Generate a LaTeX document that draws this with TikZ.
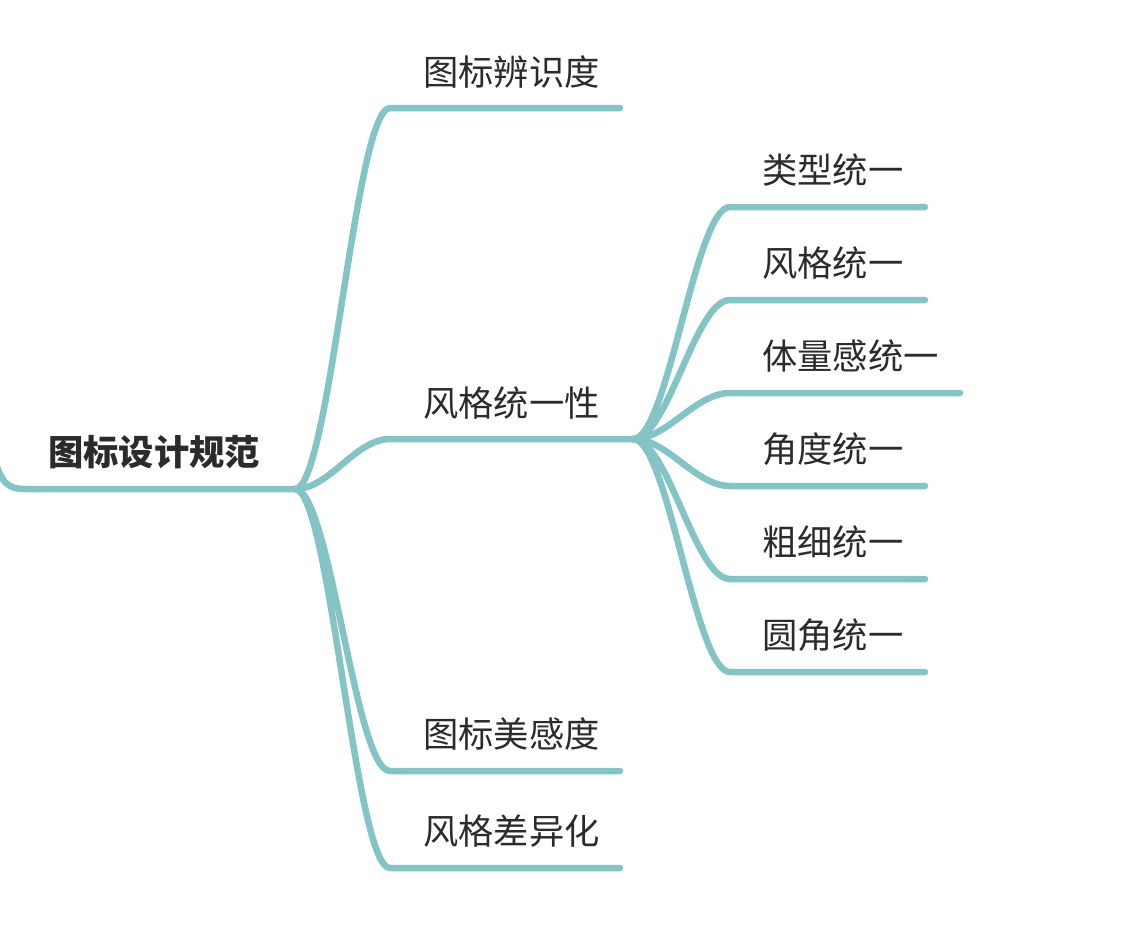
\documentclass[tikz,border=0pt]{standalone}
\usepackage{fontspec}
\newfontfamily\cjk{Noto Sans CJK SC}
\definecolor{branch}{HTML}{85C4C4}
\definecolor{txt}{HTML}{2B2B2B}
\begin{document}
\begin{tikzpicture}[x=1pt,y=-1pt,
  link/.style={draw=branch,line width=6.5pt,line cap=round,line join=round},
  lbl/.style={anchor=west,inner sep=0pt,text=txt,font=\cjk\fontsize{35.3}{40}\selectfont},
  rootlbl/.style={lbl,font=\cjk\bfseries\fontsize{35.3}{40}\selectfont}]
\useasboundingbox (0,0) rectangle (1130,946);
\clip (0,0) rectangle (1130,946);
% root
\node[rootlbl] (root) at (48,452) {图标设计规范};
\coordinate (rs) at (-6,458);
\coordinate (j0) at (295,489);
\draw[link] (rs) .. controls (2,484) and (8,489) .. (26,489) -- (j0);
% level 1
\node[lbl] (a) at (423,72) {图标辨识度};
\node[lbl] (b) at (423,403) {风格统一性};
\node[lbl] (c) at (423,734) {图标美感度};
\node[lbl] (d) at (423,831) {风格差异化};
\coordinate (a0) at (390,108); \coordinate (a1) at (620,108);
\coordinate (b0) at (390,439); \coordinate (j1) at (633,439);
\coordinate (c0) at (390,771); \coordinate (c1) at (620,771);
\coordinate (d0) at (390,868); \coordinate (d1) at (620,868);
\draw[link] (j0) .. controls (330,489) and (355,108) .. (a0) -- (a1);
\draw[link] (j0) .. controls (330,489) and (355,439) .. (b0) -- (j1);
\draw[link] (j0) .. controls (330,489) and (355,771) .. (c0) -- (c1);
\draw[link] (j0) .. controls (330,489) and (355,868) .. (d0) -- (d1);
% level 2
\node[lbl] (e) at (762,170) {类型统一};
\node[lbl] (f) at (762,263) {风格统一};
\node[lbl] (g) at (762,356) {体量感统一};
\node[lbl] (h) at (762,449) {角度统一};
\node[lbl] (i) at (762,542) {粗细统一};
\node[lbl] (k) at (762,635) {圆角统一};
\coordinate (e0) at (730,207); \coordinate (e1) at (925,207);
\coordinate (f0) at (730,300); \coordinate (f1) at (925,300);
\coordinate (g0) at (730,393); \coordinate (g1) at (960,393);
\coordinate (h0) at (730,486); \coordinate (h1) at (925,486);
\coordinate (i0) at (730,579); \coordinate (i1) at (925,579);
\coordinate (k0) at (730,672); \coordinate (k1) at (925,672);
\foreach \n/\y in {e/207,f/300,g/393,h/486,i/579,k/672}
  \draw[link] (j1) .. controls (668,439) and (695,\y) .. (\n0) -- (\n1);
\end{tikzpicture}
\end{document}
